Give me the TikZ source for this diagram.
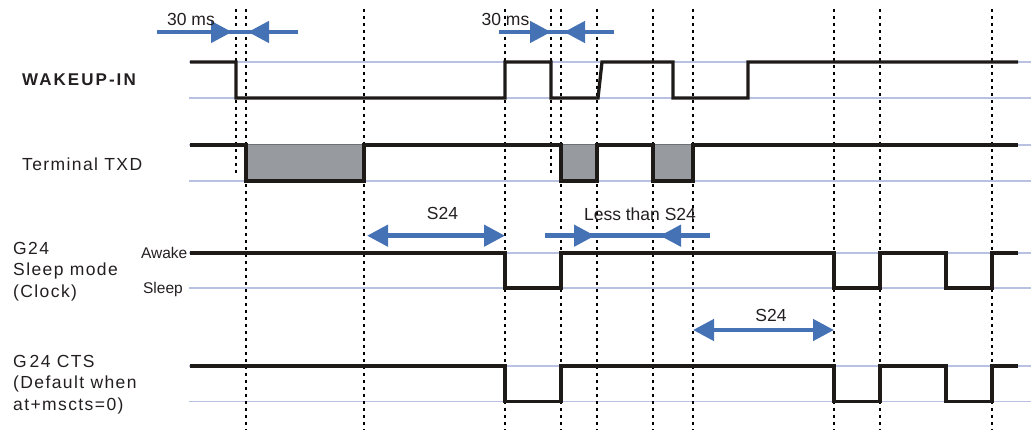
\documentclass[tikz,border=0pt]{standalone}
\usepackage{fontspec}
\setmainfont{Liberation Sans}
\newfontfamily\lblfont[LetterSpace=8]{Liberation Sans}
\newfontfamily\wkfont[LetterSpace=12]{Liberation Sans}
\usetikzlibrary{arrows.meta}
\definecolor{sig}{HTML}{1E1A18}
\definecolor{arr}{HTML}{4472B4}
\definecolor{refl}{HTML}{B9C1E3}
\definecolor{boxg}{HTML}{979A9E}
\definecolor{boxo}{HTML}{6E7073}
\definecolor{txt}{HTML}{231F20}
\tikzset{
  refline/.style={refl, line width=1.4pt},
  vdot/.style={black, line width=2pt, dash pattern=on 3.3pt off 3.7pt},
  signal/.style={sig, line width=3.3pt, line join=miter},
  gbox/.style={fill=boxg, draw=boxo, line width=1pt},
  barline/.style={arr, line width=4.5pt},
  barrow/.style={arr, line width=4.5pt, -{Triangle[length=21pt,width=21pt]}},
  dbarrow/.style={arr, line width=4.5pt, {Triangle[length=21pt,width=21pt]}-{Triangle[length=21pt,width=21pt]}},
  lbl/.style={inner sep=0pt, text=txt, font=\lblfont\fontsize{17.5}{21.5}\selectfont, align=left},
  small/.style={inner sep=0pt, text=txt, font=\fontsize{15.5}{18}\selectfont},
  note/.style={inner sep=0pt, text=txt, font=\fontsize{17.5}{20}\selectfont},
}
\begin{document}
\begin{tikzpicture}[x=1pt, y=-1pt]
\useasboundingbox (0,0) rectangle (1031,430);
% reference lines
\foreach \yy in {62,98,145,181,253,288,366,401.5}
  \draw[refline] (189,\yy) -- (1031,\yy);
% dotted time markers
\foreach \xx in {246,364,505,561,597,653,693,834,880,992}
  \draw[vdot] (\xx,9) -- (\xx,430);
\foreach \xx in {236,551}
  \draw[vdot] (\xx,9) -- (\xx,174);
% grey data blocks
\draw[gbox] (246,145) rectangle (364,181);
\draw[gbox] (561,145) rectangle (597,181);
\draw[gbox] (653,145) rectangle (693,181);
% signals
\draw[signal] (190,62) -- (236,62) -- (236,98) -- (505,98) -- (505,62) -- (551,62) -- (551,98)
  -- (598,98) -- (602,62) -- (673,62) -- (673,98) -- (748,98) -- (748,62) -- (1018,62);
\draw[signal] (190,145) -- (246,145) -- (246,181) -- (364,181) -- (364,145) -- (561,145) -- (561,181)
  -- (597,181) -- (597,145) -- (653,145) -- (653,181) -- (693,181) -- (693,145) -- (1018,145);
\draw[signal] (190,253) -- (505,253) -- (505,288) -- (561,288) -- (561,253) -- (834,253) -- (834,288)
  -- (880,288) -- (880,253) -- (946,253) -- (946,288) -- (992,288) -- (992,253) -- (1018,253);
\draw[signal] (190,366) -- (505,366) -- (505,401.5) -- (561,401.5) -- (561,366) -- (834,366) -- (834,401.5)
  -- (880,401.5) -- (880,366) -- (946,366) -- (946,401.5) -- (992,401.5) -- (992,366) -- (1018,366);
% arrows
\coordinate (a1s) at (157,32);  \coordinate (a1t) at (232,32);
\coordinate (a1e) at (298,32);  \coordinate (a1u) at (248,32);
\draw[barline] (a1s) -- (a1e);
\draw[barrow] (a1s) -- (a1t);
\draw[barrow] (a1e) -- (a1u);
\coordinate (a2s) at (499,32);  \coordinate (a2t) at (551,32);
\coordinate (a2e) at (614,32);  \coordinate (a2u) at (564,32);
\draw[barline] (a2s) -- (a2e);
\draw[barrow] (a2s) -- (a2t);
\draw[barrow] (a2e) -- (a2u);
\coordinate (a3s) at (545,235.7); \coordinate (a3t) at (595,235.7);
\coordinate (a3e) at (710,235.7); \coordinate (a3u) at (660,235.7);
\draw[barline] (a3s) -- (a3e);
\draw[barrow] (a3s) -- (a3t);
\draw[barrow] (a3e) -- (a3u);
\coordinate (d1a) at (367,235.7); \coordinate (d1b) at (505,235.7);
\draw[dbarrow] (d1a) -- (d1b);
\coordinate (d2a) at (693,330); \coordinate (d2b) at (834,330);
\draw[dbarrow] (d2a) -- (d2b);
% texts
\node[note] (t30a) at (191,19.7) {30 ms};
\node[note] (t30b) at (505.5,19.7) {30 ms};
\node[note] (ts1) at (442.5,213.5) {S24};
\node[note] (tls) at (640,213.8) {Less than S24};
\node[note] (ts2) at (771,315.5) {S24};
\node[lbl, anchor=west, font=\wkfont\bfseries\fontsize{17}{20}\selectfont] (wk) at (22,79.5) {WAKEUP-IN};
\node[lbl, anchor=west] (txd) at (22,164) {Terminal TXD};
\node[lbl, anchor=base west] (g24s) at (13,297.3) {G24\\Sleep mode\\(Clock)};
\node[lbl, anchor=base west] (g24c) at (13,410.3) {G\,24 CTS\\(Default when\\at+mscts=0)};
\node[small, anchor=base east] (awk) at (187.5,258.5) {Awake};
\node[small, anchor=base east] (slp) at (183,293.5) {Sleep};
\end{tikzpicture}
\end{document}
